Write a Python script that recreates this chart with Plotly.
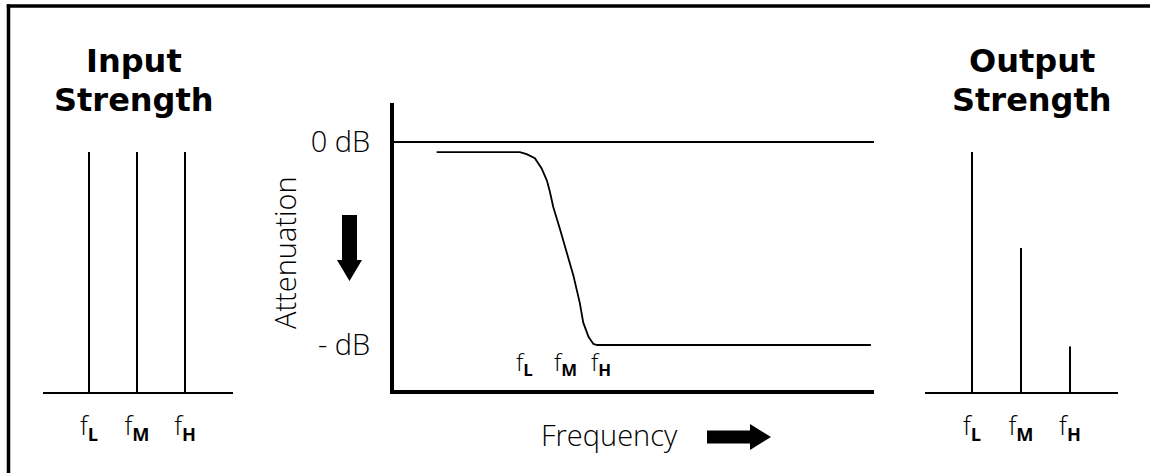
import plotly.graph_objects as go

W, H = 1150, 473

# ---------------- data ----------------
freq_labels = ["f<sub><b>L</b></sub>", "f<sub><b>M</b></sub>", "f<sub><b>H</b></sub>"]
freq_pos = [1, 2, 3]
input_strength = [1.0, 1.0, 1.0]
output_strength = [1.0, 0.6, 0.19]

curve_freq = [-1.25, 0.97, 1.15, 1.37, 1.55, 1.69, 1.77, 1.86, 2.04, 2.22, 2.40,
              2.57, 2.66, 2.80, 2.93, 3.03, 10.33]
curve_atten = [-0.05, -0.05, -0.06, -0.08, -0.13, -0.19, -0.245, -0.32, -0.43, -0.55,
               -0.66, -0.795, -0.89, -0.96, -0.995, -1.0, -1.0]

atten_tickvals = [0, -1]
atten_ticktext = ["0 dB", "- dB"]

titles_left = ["Input", "Strength"]
titles_right = ["Output", "Strength"]

# ---------------- helpers ----------------
def px(x):
    return x / W


def py(y):
    return 1 - y / H


def spikes(pos, vals):
    xs, ys = [], []
    for p, v in zip(pos, vals):
        xs += [p, p, None]
        ys += [0, v, None]
    return xs, ys


TEXT_FONT = dict(family="Open Sans, Liberation Sans, Arial, sans-serif", size=29, color="black", weight=300)
LABEL_FONT = dict(family="Open Sans, Liberation Sans, Arial, sans-serif", size=26, color="black", weight=300)
TITLE_FONT = dict(family="DejaVu Sans, Arial, sans-serif", size=32, color="black", weight="bold")

fig = go.Figure()

xi, yi = spikes(freq_pos, input_strength)
fig.add_trace(go.Scatter(x=xi, y=yi, mode="lines", line=dict(color="black", width=2),
                         xaxis="x", yaxis="y", hoverinfo="skip"))
xo, yo = spikes(freq_pos, output_strength)
fig.add_trace(go.Scatter(x=xo, y=yo, mode="lines", line=dict(color="black", width=2),
                         xaxis="x3", yaxis="y3", hoverinfo="skip"))

fig.add_trace(go.Scatter(x=curve_freq, y=curve_atten, mode="lines",
                         line=dict(color="black", width=1.8),
                         xaxis="x2", yaxis="y2", hoverinfo="skip"))

y2_range = [-1.2217, 0.1921]
fig.add_trace(go.Scatter(x=freq_pos, y=[y2_range[0] - 2 / 203] * len(freq_pos), mode="markers",
                         marker=dict(symbol="line-ns", size=15, line=dict(color="black", width=1.5)),
                         cliponaxis=False, xaxis="x2", yaxis="y2", hoverinfo="skip"))

common_x = dict(showgrid=False, zeroline=False, showline=True, linecolor="black",
                ticks="", tickvals=freq_pos, ticktext=freq_labels, tickfont=LABEL_FONT,
                ticklabelstandoff=10, fixedrange=True)
common_y = dict(showgrid=False, zeroline=False, showline=False, showticklabels=False,
                ticks="", range=[0, 1.05], fixedrange=True)

fig.update_layout(
    width=W, height=H,
    margin=dict(l=0, r=0, t=0, b=0),
    paper_bgcolor="white", plot_bgcolor="white",
    showlegend=False,
    xaxis=dict(domain=[px(43), px(233)], range=[0.0417, 4.0], linewidth=2, anchor="y", **common_x),
    yaxis=dict(domain=[py(392), py(140)], anchor="x", **common_y),
    xaxis3=dict(domain=[px(925), px(1118)], range=[0.041, 3.98], linewidth=2, anchor="y3", **common_x),
    yaxis3=dict(domain=[py(392), py(140)], anchor="x3", **common_y),
    xaxis2=dict(domain=[px(394), px(874)], range=[-2.387, 10.413], showgrid=False, zeroline=False,
                showline=True, linewidth=4, linecolor="black", showticklabels=False, ticks="",
                anchor="y2", fixedrange=True),
    yaxis2=dict(domain=[py(390), py(103)], range=y2_range, showgrid=False,
                zeroline=True, zerolinewidth=2, zerolinecolor="black",
                showline=True, linewidth=4, linecolor="black",
                tickvals=atten_tickvals, ticktext=atten_ticktext, ticks="",
                tickfont=TEXT_FONT, ticklabelstandoff=14, anchor="x2", fixedrange=True),
)

annotations = []
# panel titles
for i, t in enumerate(titles_left):
    annotations.append(dict(text=t, x=px(134), y=py([61, 100][i]), xref="paper", yref="paper",
                            xanchor="center", yanchor="middle", showarrow=False, font=TITLE_FONT))
for i, t in enumerate(titles_right):
    annotations.append(dict(text=t, x=px(1032), y=py([61, 100][i]), xref="paper", yref="paper",
                            xanchor="center", yanchor="middle", showarrow=False, font=TITLE_FONT))
# center frequency labels
for p, lab in zip(freq_pos, freq_labels):
    annotations.append(dict(text=lab, x=p, y=-(363 - 142) / 203, xref="x2", yref="y2",
                            xanchor="left", yanchor="middle", xshift=-7, showarrow=False,
                            font=dict(LABEL_FONT, size=24)))
annotations.append(dict(text="Attenuation", x=px(285), y=py(253), xref="paper", yref="paper",
                        textangle=-90, xanchor="center", yanchor="middle", showarrow=False,
                        font=TEXT_FONT))
annotations.append(dict(text="Frequency", x=px(539), y=py(434), xref="paper", yref="paper",
                        xanchor="left", yanchor="middle", showarrow=False, font=TEXT_FONT))
fig.update_layout(annotations=annotations)


def path(points):
    s = "M " + " L ".join(f"{px(x):.5f},{py(y):.5f}" for x, y in points) + " Z"
    return s


down_arrow = [(342, 215), (357, 215), (357, 260), (362, 260), (349.5, 281), (337, 260), (342, 260)]
right_arrow = [(707, 430.5), (750, 430.5), (750, 424), (771, 437), (750, 450), (750, 443.5), (707, 443.5)]

shapes = [
    dict(type="path", xref="paper", yref="paper", path=path(down_arrow),
         fillcolor="black", line=dict(color="black", width=0)),
    dict(type="path", xref="paper", yref="paper", path=path(right_arrow),
         fillcolor="black", line=dict(color="black", width=0)),
    dict(type="line", xref="paper", yref="paper", x0=px(8.5), x1=px(8.5), y0=0, y1=py(4.25),
         line=dict(color="black", width=3.5)),
    dict(type="line", xref="paper", yref="paper", x0=px(6.75), x1=1, y0=py(6), y1=py(6),
         line=dict(color="black", width=3.5)),
]
fig.update_layout(shapes=shapes)

fig.write_html("out.html",
               config={"displayModeBar": False},
               post_script="document.body.style.margin='0';document.body.style.overflow='hidden';")
